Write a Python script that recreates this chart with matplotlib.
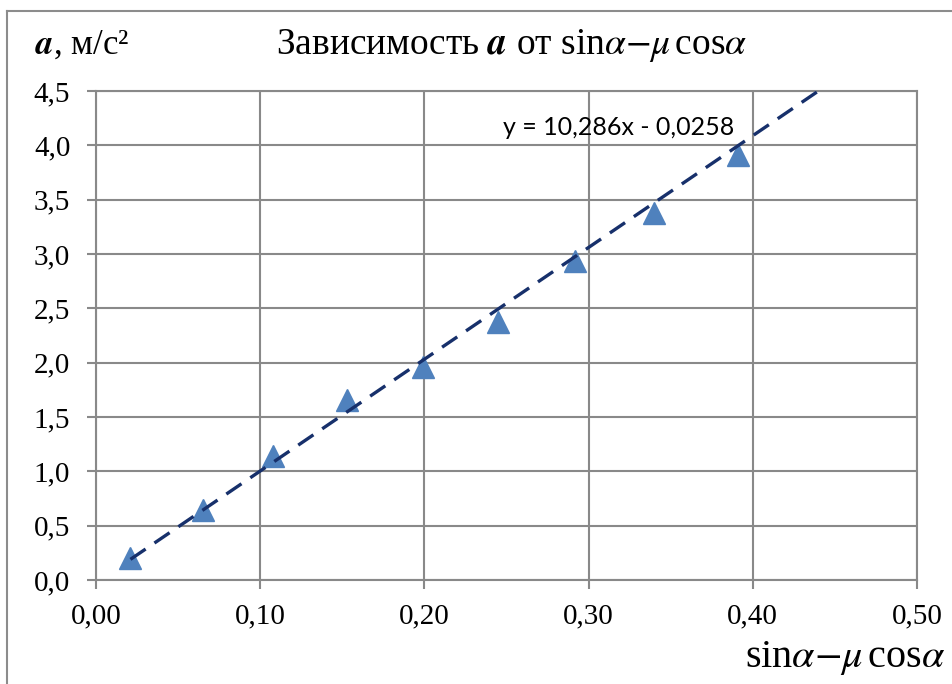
import numpy as np
import matplotlib.pyplot as plt
from matplotlib.lines import Line2D

plt.rcParams['font.family'] = ['Liberation Serif', 'DejaVu Serif']
plt.rcParams['mathtext.fontset'] = 'stix'

# data
x_vals = [0.021, 0.065, 0.108, 0.153, 0.199, 0.245, 0.292, 0.340, 0.391]
a_vals = [0.20, 0.64, 1.14, 1.66, 1.96, 2.37, 2.94, 3.38, 3.91]
slope, intercept = 10.286, -0.0258
trend_end = 0.44

x_ticks = [0.0, 0.1, 0.2, 0.3, 0.4, 0.5]
y_ticks = [0.0, 0.5, 1.0, 1.5, 2.0, 2.5, 3.0, 3.5, 4.0, 4.5]

fig = plt.figure(figsize=(9.53, 6.84), dpi=100)
ax = fig.add_axes([0.1007, 0.152, 0.8615, 0.715])

# outer chart frame (left + top only visible)
fig.add_artist(Line2D([0.0073, 0.0073], [0, 0.984], transform=fig.transFigure, color='#8c8c8c', lw=1.5))
fig.add_artist(Line2D([0.0073, 1.0], [0.984, 0.984], transform=fig.transFigure, color='#8c8c8c', lw=1.5))

grid_col = '#898989'
ax.set_xlim(0, 0.5)
ax.set_ylim(0, 4.5)
ax.set_xticks(x_ticks)
ax.set_yticks(y_ticks)
ax.set_xticklabels([f'{v:.2f}'.replace('.', ',') for v in x_ticks])
ax.set_yticklabels([f'{v:.1f}'.replace('.', ',') for v in y_ticks])
ax.grid(True, color=grid_col, lw=1.5)
ax.set_axisbelow(True)
for s in ax.spines.values():
    s.set_color(grid_col)
    s.set_linewidth(1.5)
ax.tick_params(colors=grid_col, length=6.5, width=1.5, labelsize=21, labelcolor='black')
ax.tick_params(axis='y', pad=12)
ax.tick_params(axis='x', pad=10)

tx = np.array([x_vals[0], trend_end])
ax.plot(tx, slope * tx + intercept, color='#17306b', lw=2.4, ls=(0, (5.5, 3.2)), zorder=3)
ax.plot(x_vals, a_vals, ls='none', marker='^', ms=16, color='#4f81bd', zorder=2)

ax.text(0.636, 0.926, 'y = 10,286x - 0,0258', transform=ax.transAxes,
        fontsize=18, family=['Lato', 'DejaVu Sans'], ha='center', va='center')

fig.text(0.037, 0.934, r'$\boldsymbol{a}$, м/с²', fontsize=25, va='center', ha='left')
fig.text(0.537, 0.934, r'Зависимость $\boldsymbol{a}$ от sin$\alpha$$-\mu\,$cos$\alpha$',
         fontsize=27, va='center', ha='center')
fig.text(0.992, 0.038, r'sin$\alpha$$-\mu\,$cos$\alpha$', fontsize=29, va='center', ha='right')

fig.savefig('out.png', dpi=100)
